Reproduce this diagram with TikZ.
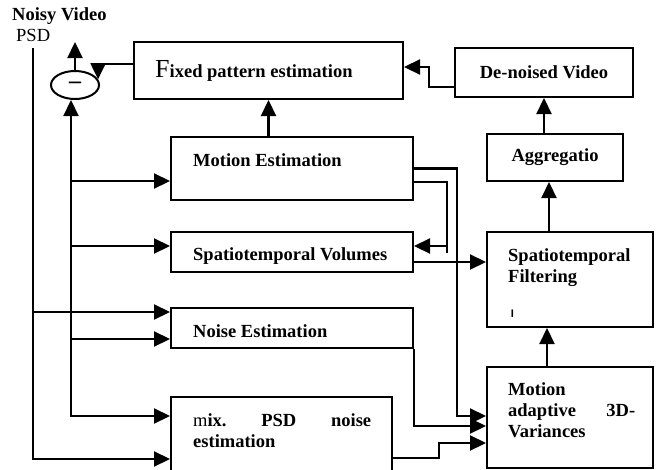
\documentclass[tikz,border=0pt]{standalone}
\usepackage{fontspec}
\setmainfont{Liberation Serif}
\newfontfamily\caretfont{Liberation Sans}
\usetikzlibrary{arrows.meta,shapes.geometric}
\begin{document}
\begin{tikzpicture}[x=1pt,y=-1pt,
  box/.style={draw, line width=2pt, inner sep=0pt},
  lbl/.style={font=\bfseries\fontsize{18.5}{21}\selectfont, inner sep=0pt},
  wire/.style={line width=2.2pt},
  conn/.style={wire, -{Triangle[length=16pt,width=15pt]}},
  conn2/.style={wire, {Triangle[length=16pt,width=15pt]}-{Triangle[length=16pt,width=15pt]}},
]
\useasboundingbox (0,0) rectangle (659,469);
\fill[white] (0,0) rectangle (659,469);
\clip (0,0) rectangle (659,469);

% processing blocks
\node[box, minimum width=269pt, minimum height=57pt] (fixed) at (268.5,70.5) {};
\node[box, lbl, minimum width=178pt, minimum height=49pt] (denoised) at (544,72.5) {De-noised Video};
\node[box, lbl, minimum width=136pt, minimum height=47pt] (aggr) at (555,157.5) {Aggregatio};
\node[box, minimum width=166pt, minimum height=95pt] (stf) at (570,279.5) {};
\node[box, minimum width=166pt, minimum height=101pt] (mav) at (570,417.5) {};
\node[box, minimum width=242pt, minimum height=63pt] (me) at (292,168.5) {};
\node[box, minimum width=242pt, minimum height=40pt] (stv) at (292,252) {};
\node[box, minimum width=242pt, minimum height=40pt] (ne) at (292,328) {};
\node[box, minimum width=221pt, minimum height=93pt] (mix) at (281.5,443.5) {};
\node[draw, ellipse, line width=2pt, minimum width=48pt, minimum height=28pt, inner sep=0pt,
      font=\bfseries\fontsize{24}{24}\selectfont] (sub) at (75,85) {–};

% block texts
\node[lbl, anchor=base west] (fixed-t) at (155,77.7)
  {{\mdseries\fontsize{26}{26}\selectfont F}ixed pattern estimation};
\node[lbl, anchor=base west] (me-t) at (193,166) {Motion Estimation};
\node[lbl, anchor=base west] (stv-t) at (193,260) {Spatiotemporal Volumes};
\node[lbl, anchor=base west] (ne-t) at (193,337) {Noise Estimation};
\node[lbl, anchor=north west, text width=178pt, align=left] (mix-t) at (193,413)
  {{\mdseries m}ix.\hfill PSD\hfill noise\\estimation};
\node[lbl, anchor=north west, text width=135pt, align=left] (stf-t) at (508,248)
  {Spatiotemporal\\Filtering};
\node[font=\caretfont\bfseries\fontsize{11}{11}\selectfont, inner sep=0pt, anchor=base] (cursor) at (512.5,317) {I};
\node[lbl, anchor=north west, text width=127pt, align=left] (mav-t) at (508,382)
  {Motion\\adaptive\hfill 3D-\\Variances};
\node[lbl, anchor=base west] (noisy) at (12,20.7) {Noisy Video};
\node[font=\fontsize{18.5}{21}\selectfont, inner sep=0pt, anchor=base west] (psd) at (16,41.7) {PSD};

% routing columns and ports
\coordinate (bx) at (71,0);
\coordinate (c1) at (457,0);
\coordinate (c2) at (447,0);
\coordinate (c3) at (439,0);
\coordinate (c4) at (429,0);
\coordinate (top) at (75,42);
\coordinate (px) at ([yshift=-6pt]psd.south);

\coordinate (me-in) at ([yshift=-12.5pt]me.west);
\coordinate (stv-in) at ([yshift=6pt]stv.west);
\coordinate (ne-in1) at ([yshift=16pt]ne.west);
\coordinate (ne-in2) at ([yshift=-11pt]ne.west);
\coordinate (mix-in1) at ([yshift=27.5pt]mix.west);
\coordinate (mix-in2) at ([yshift=-15.5pt]mix.west);
\coordinate (me-o2) at ([yshift=-13.5pt]me.east);
\coordinate (stv-r) at ([yshift=6pt]stv.east);
\coordinate (stv-end) at ([yshift=-1pt]stv.east);
\coordinate (stv-o) at ([yshift=-10pt]stv.east);
\coordinate (mav-in1) at ([yshift=1.5pt]mav.west);
\coordinate (mav-in2) at ([yshift=-8.5pt]mav.west);
\coordinate (mav-in3) at ([yshift=-25.5pt]mav.west);
\coordinate (mix-o) at ([yshift=-14.5pt]mix.east);
\coordinate (dn-o) at ([yshift=-14.5pt]denoised.west);
\coordinate (fx-in) at ([yshift=3.5pt]fixed.east);
\coordinate (fx-o) at ([yshift=6.5pt]fixed.west);

% subtraction node
\draw[conn] (sub.north) -- (top);
\draw[conn] (fx-o) -| (sub.14);
\draw[conn2] (bx |- sub.south) |- (mix-in1);

% input feeds
\draw[conn] (bx |- me-in) -- (me-in);
\draw[conn] (bx |- stv-in) -- (stv-in);
\draw[conn] (bx |- ne-in2) -- (ne-in2);
\draw[conn] (px) |- (mix-in2);
\draw[conn] (px |- ne-in1) -- (ne-in1);

% main chain
\draw[conn] (fixed.south |- me.north) -- (fixed.south);
\draw[conn] (dn-o) -| (c4 |- fx-in) -- (fx-in);
\draw[conn] (denoised.south |- aggr.north) -- (denoised.south);
\draw[conn] ([xshift=-21pt]stf.north) -- ([xshift=-21pt]stf.north |- aggr.south);
\draw[conn] ([xshift=-23pt]mav.north) -- ([xshift=-23pt]mav.north |- stf.south);

% motion estimation outputs
\draw[conn] (me.east) -| (c1 |- mav-in1) -- (mav-in1);
\draw[wire] (me-o2) -| (c2 |- stv-end);
\draw[conn] (c2 |- stv-r) -- (stv-r);
\draw[conn] (stv-o) -- (stv-o -| stf.west);

% variance inputs
\draw[conn] (ne.south east) |- (mav-in2);
\draw[conn] (mix-o) -| (c3 |- mav-in3) -- (mav-in3);
\end{tikzpicture}
\end{document}
